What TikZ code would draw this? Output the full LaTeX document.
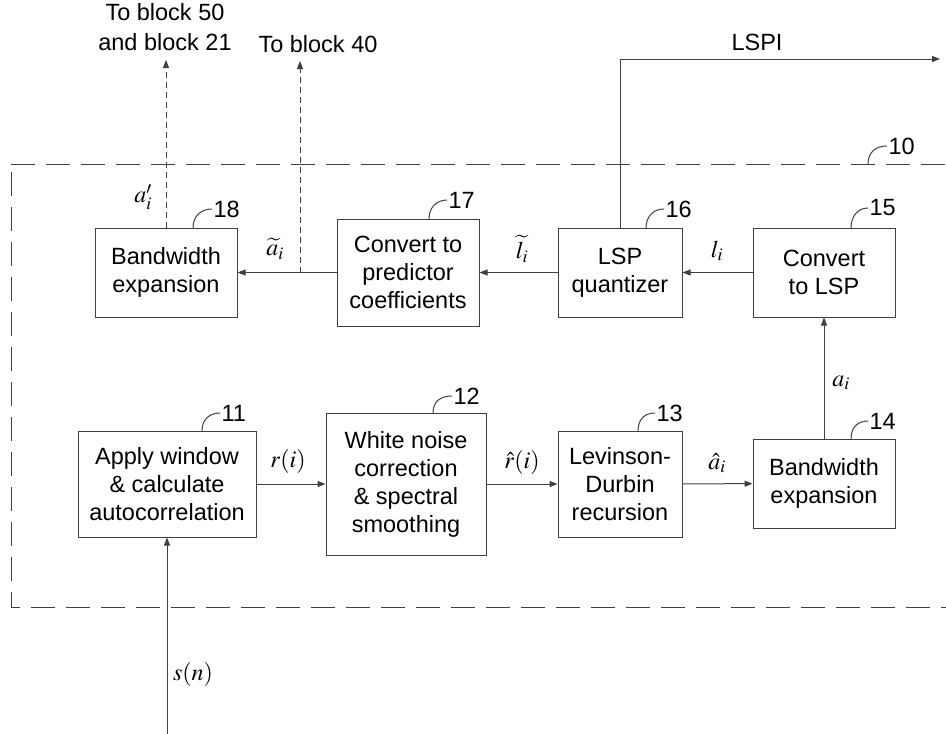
\documentclass[tikz,border=0pt]{standalone}
\usepackage{mathptmx}
\usepackage{fontspec}
\setmainfont{Liberation Sans}
\usetikzlibrary{arrows.meta}
\begin{document}
\begin{tikzpicture}[x=1pt,y=-1pt,
  ln/.style={draw=black!75, line width=1pt},
  blk/.style={ln, align=center, font=\fontsize{23.5}{28}\selectfont, inner sep=0pt},
  arr/.style={ln, -{Triangle[length=8pt,width=6pt]}},
  darr/.style={arr, dash pattern=on 6pt off 4pt},
  num/.style={anchor=west, font=\fontsize{23.5}{28}\selectfont, inner sep=1pt},
  ml/.style={font=\fontsize{24}{28}\selectfont, inner sep=0pt},
  txt/.style={font=\fontsize{23.5}{30}\selectfont, align=center, inner sep=0pt}]
\useasboundingbox (0,0) rectangle (946,734);
% enclosing dashed box 10
\draw[ln, dash pattern=on 24pt off 11pt] (11,164) -- (946,164);
\draw[ln, dash pattern=on 24pt off 11pt] (11,172) -- (11,607) -- (946,607);
% blocks
\node[blk, minimum width=142pt, minimum height=89pt] (b18) at (166,272.5) {Bandwidth\\expansion};
\node[blk, minimum width=142pt, minimum height=107pt] (b17) at (408,272.5) {Convert to\\predictor\\coefficients};
\node[blk, minimum width=124pt, minimum height=89pt] (b16) at (620,272.5) {LSP\\quantizer};
\node[blk, minimum width=142pt, minimum height=89pt] (b15) at (824,272.5) {Convert\\to LSP};
\node[blk, minimum width=178pt, minimum height=106pt] (b11) at (167,484) {Apply window\\\& calculate\\autocorrelation};
\node[blk, minimum width=160pt, minimum height=142pt] (b12) at (406,484) {White noise\\correction\\\& spectral\\smoothing};
\node[blk, minimum width=124pt, minimum height=106pt] (b13) at (620,484) {Levinson-\\Durbin\\recursion};
\node[blk, minimum width=142pt, minimum height=89pt] (b14) at (824,483.5) {Bandwidth\\expansion};
% free ends
\coordinate (out18) at (166,60);
\coordinate (out40) at (300,61);
\coordinate (tap) at (300,272.5);
\coordinate (lspc) at (620,59);
\coordinate (lspo) at (940,59);
\coordinate (sin) at (167,734);
% connectors
\draw[arr] (b11) -- (b12);
\draw[arr] (b12) -- (b13);
\draw[arr] (b13) -- (b14);
\draw[arr] (b14) -- (b15);
\draw[arr] (b15) -- (b16);
\draw[arr] (b16) -- (b17);
\draw[arr] (b17) -- (b18);
\draw[darr] (b18.north) -- (out18);
\draw[darr] (tap) -- (out40);
\draw[arr] (b16.north) -- (lspc) -- (lspo);
\draw[arr] (sin) -- (b11.south);
% texts
\node[txt] (t50) at (165,27) {To block 50\\and block 21};
\node[txt] (t40) at (318,44) {To block 40};
\node[txt] (tlspi) at (757,42) {LSPI};
% math labels
\node[ml] (la1) at (143,197) {$a'_i$};
\node[ml] (la2) at (275,249) {$\widetilde{a}_i$};
\node[ml] (ll1) at (522,249) {$\widetilde{l}_i$};
\node[ml] (ll2) at (717,251) {$l_i$};
\node[ml] (la3) at (841,383) {$a_i$};
\node[ml] (lr1) at (288,461) {$r(i)$};
\node[ml] (lr2) at (522,462) {$\hat{r}(i)$};
\node[ml] (la4) at (717,463) {$\hat{a}_i$};
\node[ml] (ls) at (193,674) {$s(n)$};
% reference numeral leaders
\draw[ln] (193,228) .. controls (193,216) and (201,209) .. (212,209) node[num] {18};
\draw[ln] (429,219) .. controls (429,207) and (437,200) .. (447,200) node[num] {17};
\draw[ln] (646,228) .. controls (646,216) and (654,209) .. (664,209) node[num] {16};
\draw[ln] (851,228) .. controls (851,216) and (858,208) .. (868,208) node[num] {15};
\draw[ln] (868,164) .. controls (868,152) and (876,146) .. (887,146) node[num] {10};
\draw[ln] (202,431) .. controls (202,419) and (210,413) .. (220,413) node[num] {11};
\draw[ln] (433,413) .. controls (433,401) and (441,396) .. (452,396) node[num] {12};
\draw[ln] (638,431) .. controls (638,419) and (645,413) .. (655,413) node[num] {13};
\draw[ln] (851,439) .. controls (851,427) and (858,421) .. (868,421) node[num] {14};
\end{tikzpicture}
\end{document}
